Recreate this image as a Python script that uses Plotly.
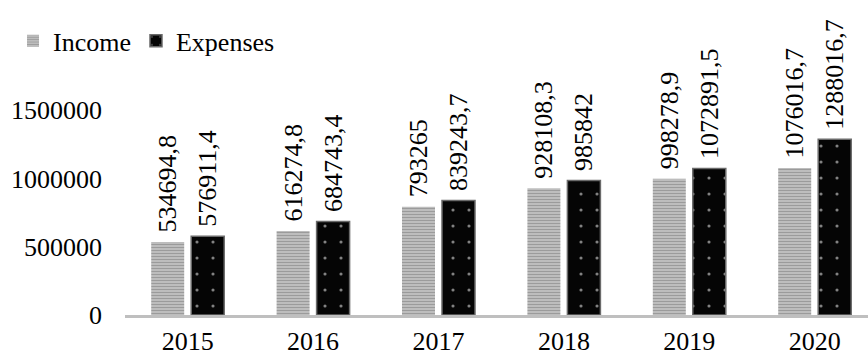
import plotly.graph_objects as go

years = ["2015", "2016", "2017", "2018", "2019", "2020"]
income = [534694.8, 616274.8, 793265, 928108.3, 998278.9, 1076016.7]
expenses = [576911.4, 684743.4, 839243.7, 985842, 1072891.5, 1288016.7]
y_ticks = [0, 500000, 1000000, 1500000]


def fmt(v):
    s = ("%.1f" % v).replace(".", ",")
    if s.endswith(",0"):
        s = s[:-2]
    return "\u00a0" + s


FONT = "Liberation Serif, Times New Roman, serif"

fig = go.Figure()
fig.add_trace(go.Bar(
    x=years, y=income, name="Income",
    text=[fmt(v) for v in income],
    textposition="outside", textangle=-90, constraintext="none",
    cliponaxis=False,
    textfont=dict(family=FONT, size=26, color="#000000"),
    marker=dict(
        color="#b0b0b0",
        line=dict(width=0),
        pattern=dict(shape="-", size=3, solidity=0.5,
                     fgcolor="#6e6e6e", bgcolor="#c8c8c8", fillmode="overlay"),
    ),
))
fig.add_trace(go.Bar(
    x=years, y=expenses, name="Expenses",
    text=[fmt(v) for v in expenses],
    textposition="outside", textangle=-90, constraintext="none",
    cliponaxis=False,
    textfont=dict(family=FONT, size=26, color="#000000"),
    marker=dict(
        color="#050505",
        line=dict(width=1.5, color="#6a6a6a"),
        pattern=dict(shape=".", size=16, solidity=0.03,
                     fgcolor="#ffffff", bgcolor="#050505", fillmode="overlay"),
    ),
))

fig.update_layout(
    width=868, height=356,
    margin=dict(l=125, r=0, t=42, b=41, autoexpand=False),
    paper_bgcolor="white", plot_bgcolor="white",
    font=dict(family=FONT, size=26, color="#000000"),
    barmode="group", bargap=0.362, bargroupgap=0.175,
    showlegend=True,
    legend=dict(
        orientation="h", xref="container", yref="container",
        x=0.015, y=0.885, xanchor="left", yanchor="middle",
        font=dict(family=FONT, size=26, color="#000000"),
        itemwidth=30, bgcolor="rgba(0,0,0,0)",
    ),
    xaxis=dict(
        type="category", range=[-0.5, 5.425],
        showline=True, linecolor="#bfbfbf", linewidth=3,
        showgrid=False, zeroline=False, ticks="",
        ticklabelstandoff=1,
        tickfont=dict(family=FONT, size=26, color="#000000"),
    ),
    yaxis=dict(
        range=[0, 2000000], tickvals=y_ticks,
        ticktext=[str(v) for v in y_ticks],
        showline=False, showgrid=False, zeroline=False, ticks="",
        ticklabelstandoff=22,
        tickfont=dict(family=FONT, size=26, color="#000000"),
    ),
)

fig.write_html("out.html")
